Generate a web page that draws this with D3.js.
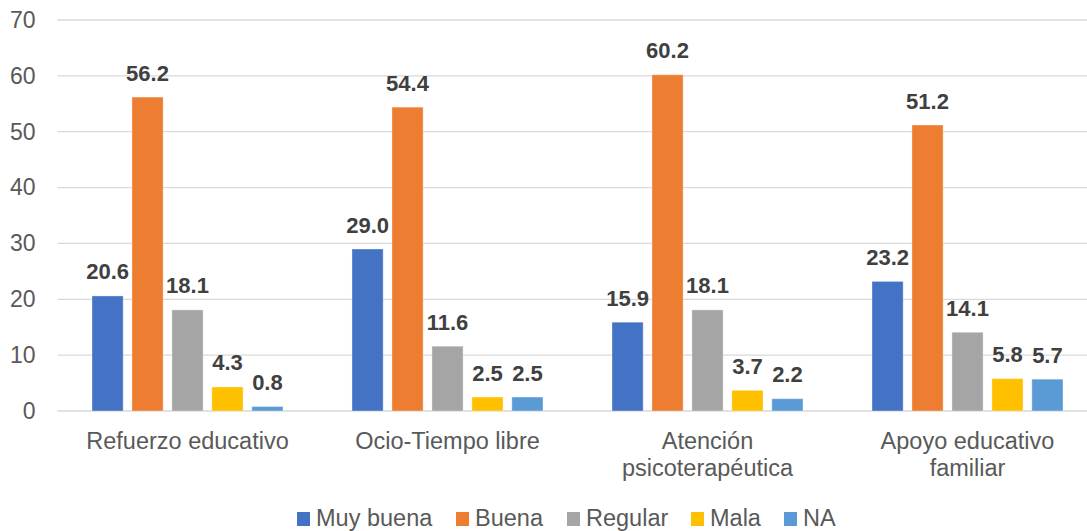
<!DOCTYPE html>
<html>
<head>
<meta charset="utf-8">
<script src="https://cdn.jsdelivr.net/npm/d3@7"></script>
<style>
  html, body { margin: 0; padding: 0; background: #ffffff; }
  svg { display: block; font-family: "Liberation Sans", Arial, sans-serif; }
</style>
</head>
<body>
<svg id="chart" width="1087" height="531"></svg>
<script>
const categories = ["Refuerzo educativo", "Ocio-Tiempo libre", "Atención psicoterapéutica", "Apoyo educativo familiar"];
const categoryLines = [["Refuerzo educativo"], ["Ocio-Tiempo libre"], ["Atención", "psicoterapéutica"], ["Apoyo educativo", "familiar"]];
const seriesNames = ["Muy buena", "Buena", "Regular", "Mala", "NA"];
const muyBuena = [20.6, 29.0, 15.9, 23.2];
const buena = [56.2, 54.4, 60.2, 51.2];
const regular = [18.1, 11.6, 18.1, 14.1];
const mala = [4.3, 2.5, 3.7, 5.8];
const na = [0.8, 2.5, 2.2, 5.7];
const yTicks = [0, 10, 20, 30, 40, 50, 60, 70];
const colors = ["#4472C4", "#ED7D31", "#A5A5A5", "#FFC000", "#5B9BD5"];

(function () {
const seriesValues = [muyBuena, buena, regular, mala, na];
const data = categories.map((c, i) => ({
  cat: c,
  values: seriesNames.map((s, j) => ({ series: s, value: seriesValues[j][i], color: colors[j] }))
}));

const svg = d3.select("#chart");
const mLeft = 57.5, mRight = 1097.5, mTop = 20, mBottom = 411;

const y = d3.scaleLinear().domain([0, 70]).range([mBottom, mTop]);
const x0 = d3.scaleBand().domain(categories).range([mLeft, mRight]).padding(0);
const x1 = d3.scaleBand().domain(seriesNames).range([0, x0.bandwidth()])
  .paddingInner(0.22).paddingOuter(0.863);

// gridlines
svg.append("g").selectAll("line").data(yTicks).join("line")
  .attr("x1", mLeft).attr("x2", 1087)
  .attr("y1", d => y(d)).attr("y2", d => y(d))
  .attr("stroke", "#D9D9D9").attr("stroke-width", 1.3);

// y axis labels
const yAxis = d3.axisLeft(y).tickValues(yTicks).tickSize(0).tickPadding(0);
const yg = svg.append("g").attr("transform", `translate(${35.5},0)`).call(yAxis);
yg.select(".domain").remove();
yg.selectAll("text").attr("font-size", 23).attr("fill", "#595959")
  .attr("font-family", "'Liberation Sans', Arial, sans-serif");

// bars
const groups = svg.append("g").selectAll("g").data(data).join("g")
  .attr("transform", d => `translate(${x0(d.cat)},0)`);

groups.selectAll("rect").data(d => d.values).join("rect")
  .attr("x", d => x1(d.series))
  .attr("width", x1.bandwidth())
  .attr("y", d => y(d.value))
  .attr("height", d => y(0) - y(d.value))
  .attr("fill", d => d.color)
  .attr("stroke", "#ffffff").attr("stroke-opacity", 0.35).attr("stroke-width", 1);

groups.selectAll("text").data(d => d.values).join("text")
  .attr("x", d => x1(d.series) + x1.bandwidth() / 2)
  .attr("y", d => y(d.value) - 16.5)
  .attr("text-anchor", "middle")
  .attr("font-size", 22).attr("font-weight", "bold").attr("fill", "#404040")
  .text(d => d.value.toFixed(1));

// category labels
const xg = svg.append("g");
categories.forEach((c, i) => {
  const cx = x0(c) + x0.bandwidth() / 2;
  const t = xg.append("text")
    .attr("x", cx)
    .attr("y", 449)
    .attr("text-anchor", "middle")
    .attr("font-size", 23.5).attr("fill", "#595959");
  categoryLines[i].forEach((line, k) => {
    t.append("tspan").attr("x", cx)
      .attr("dy", k === 0 ? 0 : 27).text(line);
  });
});

// legend
const legendX = [297, 456, 567, 691, 784];
const lg = svg.append("g");
seriesNames.forEach((s, i) => {
  const g = lg.append("g").attr("transform", `translate(${legendX[i]},0)`);
  g.append("rect").attr("x", 0).attr("y", 512).attr("width", 13).attr("height", 14).attr("fill", colors[i]);
  g.append("text").attr("x", 19).attr("y", 525.5).attr("font-size", 23.5).attr("fill", "#595959").text(s);
});
})();
</script>
</body>
</html>
